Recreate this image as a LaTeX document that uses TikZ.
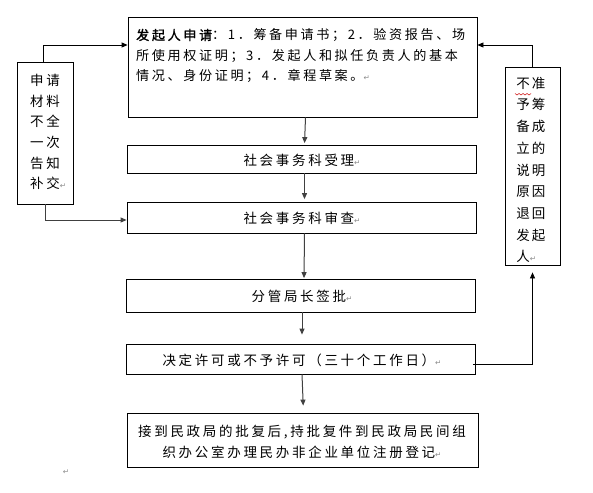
\documentclass[tikz,border=0pt]{standalone}
\usepackage{fontspec}
\usetikzlibrary{arrows.meta}
\newfontfamily\cjk[LetterSpace=20]{Noto Sans CJK SC}
\newfontfamily\cjkb[LetterSpace=20,FakeBold=1.2]{Noto Sans CJK SC}
\newfontfamily\dejavu{DejaVu Sans}
\newcommand\pmk{{\dejavu\fontsize{7.5}{7.5}\selectfont\color{black!45}↵}}
\tikzset{
  box/.style={draw=black,line width=0.8pt,rectangle,inner sep=0pt,fill=white},
  txt/.style={inner sep=0pt,font=\cjk\fontsize{13.5}{20.5}\selectfont},
  arr/.style={draw=black!75,line width=1pt,-{Triangle[length=6pt,width=5pt]}},
}
\begin{document}
\begin{tikzpicture}[x=1pt,y=-1pt]
\useasboundingbox[fill=white] (0,0) rectangle (593,492);
% boxes
\node[box,minimum width=349pt,minimum height=100pt] (b1) at (302.5,67) {};
\node[box,minimum width=349pt,minimum height=28pt] (b2) at (301.5,159) {};
\node[box,minimum width=349pt,minimum height=31pt] (b3) at (301.5,217.5) {};
\node[box,minimum width=349pt,minimum height=33pt] (b4) at (301,295.5) {};
\node[box,minimum width=349pt,minimum height=30pt] (b5) at (301,359) {};
\node[box,minimum width=351pt,minimum height=54pt] (b6) at (302.5,440) {};
\node[box,minimum width=56pt,minimum height=142pt] (L) at (45,133) {};
\node[box,minimum width=55pt,minimum height=198pt] (R) at (532.5,166) {};
% texts
\node[txt,anchor=west,align=left,font=\cjk\fontsize{13.1}{20.5}\selectfont] (t1) at (136,56) {{\cjkb 发起人申请}：1．筹备申请书；2．验资报告、场\\所使用权证明；3．发起人和拟任负责人的基本\\情况、身份证明；4．章程草案。\pmk};
\node[txt] (t2) at (302,160) {社会事务科受理\pmk};
\node[txt] (t3) at (302,218) {社会事务科审查\pmk};
\node[txt] (t4) at (302,296) {分管局长签批\pmk};
\node[txt] (t5) at (302,360) {决定许可或不予许可（三十个工作日）\pmk};
\node[txt,align=center] (t6) at (302,442) {接到民政局的批复后,持批复件到民政局民间组\\织办公室办理民办非企业单位注册登记\pmk};
\node[txt,align=center,font=\cjk\fontsize{13.5}{20.6}\selectfont] (tL) at (45,132) {申请\\材料\\不全\\一次\\告知\\补交\rlap{\pmk}};
\node[txt,align=left,font=\cjk\fontsize{13.5}{21.7}\selectfont] (tR) at (533,170) {不\kern2pt准\\予\kern2pt筹\\备\kern2pt成\\立\kern2pt的\\说\kern2pt明\\原\kern2pt因\\退\kern2pt回\\发\kern2pt起\\人\pmk\phantom{起}};
\draw[red!80!black,line width=0.5pt] (515,93.5) -- (517,95) -- (519,93.5) -- (521,95) -- (523,93.5) -- (525,95) -- (527,93.5) -- (529,95) -- (531,93.5);
\node[inner sep=0pt] (pm) at (66,472) {\pmk};
% connectors
\draw[arr,shorten >=1.5pt] ([xshift=3pt]b1.south) -- ([xshift=3pt]b2.north);
\draw[arr,shorten >=2.5pt] ([xshift=3pt]b2.south) -- ([xshift=3pt]b3.north);
\draw[arr,shorten >=0.5pt] ([xshift=3pt]b3.south) -- ([xshift=3pt]b4.north);
\draw[arr,shorten >=9pt] ([xshift=1pt]b4.south) -- ([xshift=1pt]b5.north);
\draw[arr,shorten >=7pt] ([xshift=1pt]b5.south) -- ([xshift=1pt]b6.north);
\draw[arr,draw=black,line width=0.8pt] ([xshift=-2pt]L.north) |- ([yshift=22pt]b1.west);
\draw[arr] (L.south) |- ([yshift=-2.5pt]b3.west);
\draw[arr,draw=black,line width=0.8pt] (R.north) |- ([yshift=22pt]b1.east);
\draw[arr,draw=black,line width=0.8pt] ([xshift=-3pt,yshift=-5pt]b5.east) -| ([yshift=-7pt]R.south);
\end{tikzpicture}
\end{document}
